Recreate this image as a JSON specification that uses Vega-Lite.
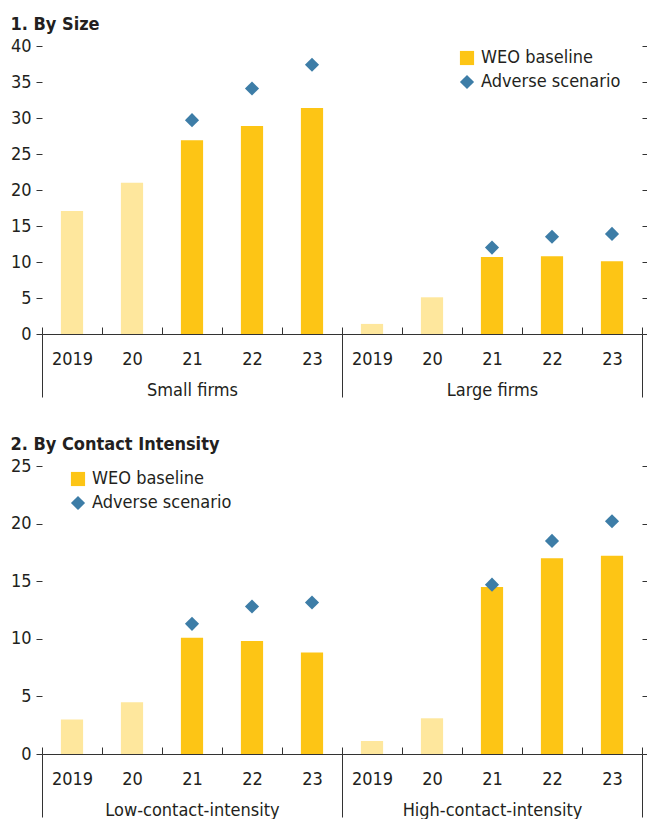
{
  "$schema": "https://vega.github.io/schema/vega-lite/v6.json",
  "padding": {"left": 10, "top": 16, "right": 0, "bottom": 0},
  "background": "white",
  "datasets": {
    "size": [
      {"group": "Small firms", "key": "1 2019", "baseline": 17.1, "adverse": null, "period": "actual"},
      {"group": "Small firms", "key": "1 2020", "baseline": 21.0, "adverse": null, "period": "actual"},
      {"group": "Small firms", "key": "1 2021", "baseline": 26.9, "adverse": 29.7, "period": "projection"},
      {"group": "Small firms", "key": "1 2022", "baseline": 28.9, "adverse": 34.1, "period": "projection"},
      {"group": "Small firms", "key": "1 2023", "baseline": 31.4, "adverse": 37.4, "period": "projection"},
      {"group": "Large firms", "key": "2 2019", "baseline": 1.4, "adverse": null, "period": "actual"},
      {"group": "Large firms", "key": "2 2020", "baseline": 5.1, "adverse": null, "period": "actual"},
      {"group": "Large firms", "key": "2 2021", "baseline": 10.7, "adverse": 12.0, "period": "projection"},
      {"group": "Large firms", "key": "2 2022", "baseline": 10.8, "adverse": 13.5, "period": "projection"},
      {"group": "Large firms", "key": "2 2023", "baseline": 10.1, "adverse": 13.9, "period": "projection"}
    ],
    "contact": [
      {"group": "Low-contact-intensity", "key": "1 2019", "baseline": 3.0, "adverse": null, "period": "actual"},
      {"group": "Low-contact-intensity", "key": "1 2020", "baseline": 4.5, "adverse": null, "period": "actual"},
      {"group": "Low-contact-intensity", "key": "1 2021", "baseline": 10.1, "adverse": 11.3, "period": "projection"},
      {"group": "Low-contact-intensity", "key": "1 2022", "baseline": 9.8, "adverse": 12.8, "period": "projection"},
      {"group": "Low-contact-intensity", "key": "1 2023", "baseline": 8.8, "adverse": 13.15, "period": "projection"},
      {"group": "High-contact-intensity", "key": "2 2019", "baseline": 1.13, "adverse": null, "period": "actual"},
      {"group": "High-contact-intensity", "key": "2 2020", "baseline": 3.1, "adverse": null, "period": "actual"},
      {"group": "High-contact-intensity", "key": "2 2021", "baseline": 14.5, "adverse": 14.7, "period": "projection"},
      {"group": "High-contact-intensity", "key": "2 2022", "baseline": 17.0, "adverse": 18.5, "period": "projection"},
      {"group": "High-contact-intensity", "key": "2 2023", "baseline": 17.2, "adverse": 20.2, "period": "projection"}
    ]
  },
  "spacing": 37,
  "resolve": {"scale": {"color": "independent", "shape": "independent", "opacity": "independent"}, "legend": {"color": "independent", "shape": "independent"}},
  "vconcat": [
    {
      "title": "1. By Size",
      "data": {"name": "size"},
      "width": 600,
      "height": 288,
      "layer": [
        {
          "layer": [
            {
              "mark": {"type": "bar", "width": {"band": 0.37}},
              "encoding": {
                "x": {"field": "key", "type": "nominal", "scale": {"paddingInner": 0, "paddingOuter": 0},
                  "axis": {"orient": "bottom", "labelExpr": "slice(datum.label, 2) == '2019' ? '2019' : slice(datum.label, 4)", "tickBand": "extent", "tickSize": -7, "labelPadding": 23, "labelAngle": 0, "title": null}},
                "y": {"field": "baseline", "type": "quantitative", "scale": {"domain": [0, 40]},
                  "axis": {"orient": "left", "values": [0, 5, 10, 15, 20, 25, 30, 35, 40], "tickSize": 6, "labelPadding": 5, "domain": false, "title": null}},
                "color": {"datum": "WEO baseline", "type": "nominal",
                  "scale": {"domain": ["WEO baseline", "Adverse scenario"], "range": ["#FDC515", "#3D7DA7"]},
                  "legend": {"orient": "none", "legendX": 416, "legendY": 3, "title": null}},
                "opacity": {"field": "period", "type": "nominal", "scale": {"domain": ["actual", "projection"], "range": [0.42, 1]}, "legend": null}
              }
            },
            {
              "transform": [{"filter": "datum.adverse != null"}],
              "mark": {"type": "point", "filled": true, "size": 200, "opacity": 1},
              "encoding": {
                "x": {"field": "key", "type": "nominal"},
                "y": {"field": "adverse", "type": "quantitative", "scale": {"domain": [0, 40]},
                  "axis": {"orient": "right", "values": [0, 5, 10, 15, 20, 25, 30, 35, 40], "labels": false, "tickSize": 5, "domain": false, "title": null}},
                "color": {"datum": "Adverse scenario", "type": "nominal"},
                "shape": {"datum": "Adverse scenario", "type": "nominal",
                  "scale": {"domain": ["WEO baseline", "Adverse scenario"], "range": ["square", "diamond"]}}
              }
            }
          ]
        },
        {
          "mark": {"type": "rule", "opacity": 0},
          "encoding": {
            "x": {"field": "group", "type": "nominal", "sort": null, "scale": {"paddingInner": 0, "paddingOuter": 0},
              "axis": {"orient": "bottom", "tickBand": "extent", "tickSize": 63, "labelPadding": -16, "labelAngle": 0, "labelLimit": 0, "domain": false, "title": null}}
          }
        }
      ],
      "resolve": {"scale": {"x": "independent"}, "axis": {"x": "independent"}}
    },
    {
      "title": "2. By Contact Intensity",
      "data": {"name": "contact"},
      "width": 600,
      "height": 288,
      "layer": [
        {
          "layer": [
            {
              "mark": {"type": "bar", "width": {"band": 0.37}},
              "encoding": {
                "x": {"field": "key", "type": "nominal", "scale": {"paddingInner": 0, "paddingOuter": 0},
                  "axis": {"orient": "bottom", "labelExpr": "slice(datum.label, 2) == '2019' ? '2019' : slice(datum.label, 4)", "tickBand": "extent", "tickSize": -7, "labelPadding": 23, "labelAngle": 0, "title": null}},
                "y": {"field": "baseline", "type": "quantitative", "scale": {"domain": [0, 25]},
                  "axis": {"orient": "left", "values": [0, 5, 10, 15, 20, 25], "tickSize": 6, "labelPadding": 5, "domain": false, "title": null}},
                "color": {"datum": "WEO baseline", "type": "nominal",
                  "scale": {"domain": ["WEO baseline", "Adverse scenario"], "range": ["#FDC515", "#3D7DA7"]},
                  "legend": {"orient": "none", "legendX": 27, "legendY": 4, "title": null}},
                "opacity": {"field": "period", "type": "nominal", "scale": {"domain": ["actual", "projection"], "range": [0.42, 1]}, "legend": null}
              }
            },
            {
              "transform": [{"filter": "datum.adverse != null"}],
              "mark": {"type": "point", "filled": true, "size": 200, "opacity": 1},
              "encoding": {
                "x": {"field": "key", "type": "nominal"},
                "y": {"field": "adverse", "type": "quantitative", "scale": {"domain": [0, 25]},
                  "axis": {"orient": "right", "values": [0, 5, 10, 15, 20, 25], "labels": false, "tickSize": 5, "domain": false, "title": null}},
                "color": {"datum": "Adverse scenario", "type": "nominal"},
                "shape": {"datum": "Adverse scenario", "type": "nominal",
                  "scale": {"domain": ["WEO baseline", "Adverse scenario"], "range": ["square", "diamond"]}}
              }
            }
          ]
        },
        {
          "mark": {"type": "rule", "opacity": 0},
          "encoding": {
            "x": {"field": "group", "type": "nominal", "sort": null, "scale": {"paddingInner": 0, "paddingOuter": 0},
              "axis": {"orient": "bottom", "tickBand": "extent", "tickSize": 63, "labelPadding": -16, "labelAngle": 0, "labelLimit": 0, "domain": false, "title": null}}
          }
        }
      ],
      "resolve": {"scale": {"x": "independent"}, "axis": {"x": "independent"}}
    }
  ],
  "config": {
    "font": "DejaVu Sans Condensed, Roboto, sans-serif",
    "view": {"stroke": null},
    "axis": {"labelFont": "DejaVu Sans Condensed, Roboto, sans-serif", "labelFontSize": 18, "labelColor": "#231f20", "domainColor": "#333333", "tickColor": "#333333", "grid": false, "labelFlush": false, "labelOverlap": false},
    "legend": {"labelFont": "DejaVu Sans Condensed, Roboto, sans-serif", "labelFontSize": 18, "labelColor": "#231f20", "symbolSize": 200, "symbolStrokeWidth": 0, "rowPadding": 6, "labelOffset": 5, "symbolOpacity": 1},
    "title": {"anchor": "start", "font": "DejaVu Sans Condensed, Roboto, sans-serif", "fontSize": 18, "fontWeight": "bold", "color": "#231f20", "offset": 3}
  }
}
